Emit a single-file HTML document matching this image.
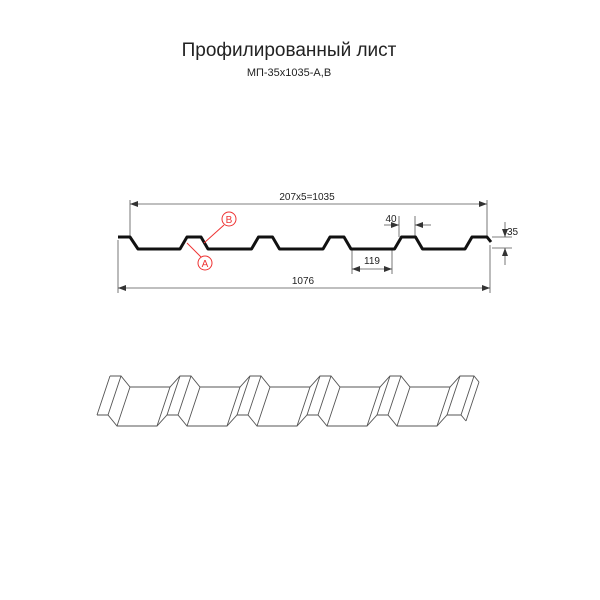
<!DOCTYPE html>
<html><head><meta charset="utf-8"><style>
html,body{margin:0;padding:0;background:#fff;}
svg{display:block;}
text{font-family:"Liberation Sans",sans-serif;fill:#222;}
</style></head><body>
<svg id="s" width="600" height="600" viewBox="0 0 600 600" xmlns="http://www.w3.org/2000/svg">
<defs>
<marker id="ar" markerWidth="8" markerHeight="6" refX="8" refY="3" orient="auto" markerUnits="userSpaceOnUse">
<path d="M0,0 L8,3 L0,6 Z" fill="#333"/></marker>
</defs>
<text x="289" y="56" font-size="19" text-anchor="middle">Профилированный лист</text>
<text x="289" y="76" font-size="11" text-anchor="middle">МП-35x1035-А,В</text>

<g stroke="#555" stroke-width="0.8" fill="none">
<line x1="130" y1="200" x2="130" y2="237"/>
<line x1="487" y1="200" x2="487" y2="237"/>
<line x1="140" y1="204" x2="130" y2="204" marker-end="url(#ar)"/>
<line x1="140" y1="204" x2="487" y2="204" marker-end="url(#ar)"/>
<line x1="118" y1="240" x2="118" y2="293"/>
<line x1="490" y1="245" x2="490" y2="293"/>
<line x1="130" y1="288" x2="118" y2="288" marker-end="url(#ar)"/>
<line x1="130" y1="288" x2="490" y2="288" marker-end="url(#ar)"/>
<line x1="352" y1="250" x2="352" y2="274"/>
<line x1="392" y1="250" x2="392" y2="274"/>
<line x1="362" y1="269" x2="352" y2="269" marker-end="url(#ar)"/>
<line x1="362" y1="269" x2="392" y2="269" marker-end="url(#ar)"/>
<line x1="399" y1="216" x2="399" y2="237"/>
<line x1="415" y1="216" x2="415" y2="237"/>
<line x1="384" y1="225" x2="399" y2="225" marker-end="url(#ar)"/>
<line x1="431" y1="225" x2="415" y2="225" marker-end="url(#ar)"/>
<line x1="492" y1="237" x2="512" y2="237"/>
<line x1="492" y1="248" x2="512" y2="248"/>
<line x1="505" y1="222" x2="505" y2="237" marker-end="url(#ar)"/>
<line x1="505" y1="265" x2="505" y2="248" marker-end="url(#ar)"/>
</g>
<text x="307" y="200" font-size="10" text-anchor="middle">207x5=1035</text>
<text x="303" y="284" font-size="10" text-anchor="middle">1076</text>
<text x="372" y="264" font-size="10" text-anchor="middle">119</text>
<text x="391" y="222" font-size="10" text-anchor="middle">40</text>
<text x="507" y="235" font-size="10">35</text>

<polyline id="prof" fill="none" stroke="#111" stroke-width="3" stroke-linejoin="round" points=""/>

<g stroke="#e33" stroke-width="1" fill="none">
<line x1="224" y1="225" x2="204" y2="243"/>
<line x1="201" y1="257" x2="187" y2="243"/>
<circle cx="229" cy="219" r="7" fill="#fff"/>
<circle cx="205" cy="263" r="7" fill="#fff"/>
</g>
<text x="229" y="223" font-size="10" text-anchor="middle" style="fill:#e33">B</text>
<text x="205" y="267" font-size="10" text-anchor="middle" style="fill:#e33">A</text>

<g id="iso" stroke="#555" stroke-width="0.9" fill="none"></g>
</svg>
<script>
(function(){
var p=[[118,237],[130,237],[138,249]];
var cs=[187,258.5,330,401.5];
for(var i=0;i<cs.length;i++){var c=cs[i];p.push([c-7,249],[c,237],[c+14,237],[c+21,249]);}
p.push([465,249],[472,237],[487,237],[491,242]);
document.getElementById('prof').setAttribute('points',p.map(function(q){return q.join(',')}).join(' '));
var b=[[110,376]];
for(var i=0;i<5;i++){var x=110+70*i;b.push([x+11,376],[x+20,387],[x+60,387],[x+70,376]);}
b.push([474,376],[479,382]);
var dx=-13,dy=39,g=document.getElementById('iso'),ns='http://www.w3.org/2000/svg';
function pl(pts){var e=document.createElementNS(ns,'polyline');e.setAttribute('points',pts.map(function(q){return q.join(',')}).join(' '));g.appendChild(e);}
pl(b);pl(b.map(function(q){return [q[0]+dx,q[1]+dy]}));
b.forEach(function(q){pl([q,[q[0]+dx,q[1]+dy]]);});
})();
</script>
</body></html>
